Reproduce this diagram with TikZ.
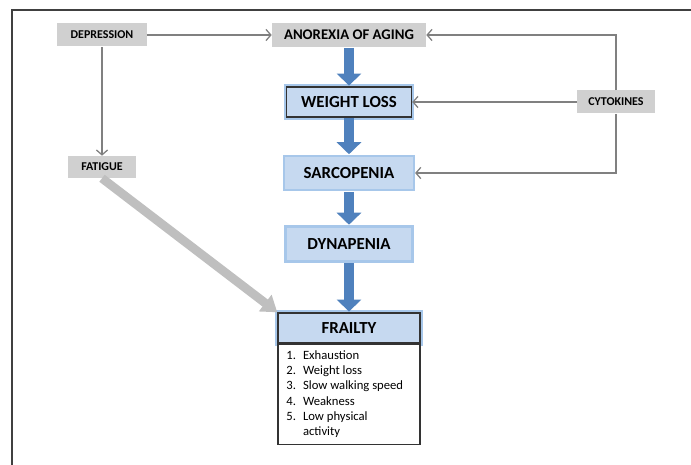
\documentclass[tikz,border=0pt]{standalone}
\usepackage{fontspec}
\setmainfont{Carlito}
\usepackage{xcolor}
\usetikzlibrary{arrows.meta, shapes}
\definecolor{boxgray}{HTML}{D0D0D0}
\definecolor{linegray}{HTML}{808080}
\definecolor{stagefill}{HTML}{C6D9F0}
\definecolor{stageglow}{HTML}{A7C7EA}
\definecolor{flowblue}{HTML}{4F81BD}
\tikzstyle{cause} = [rectangle, inner sep=0pt, text centered, fill=boxgray, font=\bfseries\fontsize{8.5}{10}\selectfont]
\tikzstyle{stage} = [rectangle, inner sep=0pt, text centered, fill=stagefill, draw=stageglow, line width=1.5pt, font=\bfseries\fontsize{12}{14}\selectfont]
\tikzstyle{outlined} = [draw=black!80, line width=1pt, preaction={draw=stageglow, line width=4pt}]
\tikzstyle{arrow} = [draw=linegray, line width=0.9pt, -{Straight Barb[length=3.5pt, width=8pt]}]
\tikzstyle{blockarrow} = [draw=flowblue, line width=0.25cm, -{Triangle[length=0.3cm, width=0.6cm]}, shorten <=0.5pt, shorten >=0.5pt]

\begin{document}
\begin{tikzpicture}[x=0.025cm, y=-0.025cm]
\useasboundingbox (0,0) rectangle (691,465);
% frame
\draw[color=black!75, line width=1pt] (691,10) -- (12,10) -- (12,465);

\node at (102, 35) (depression) [cause, minimum width=2.225cm, minimum height=0.575cm] {DEPRESSION};
\node at (349, 35) (anorexia) [cause, minimum width=3.85cm, minimum height=0.6cm, font=\bfseries\fontsize{10.5}{12}\selectfont] {ANOREXIA OF AGING};
\node at (616, 102) (cytokines) [cause, minimum width=1.925cm, minimum height=0.575cm] {CYTOKINES};
\node at (102, 167) (fatigue) [cause, minimum width=1.675cm, minimum height=0.55cm] {FATIGUE};

\node at (349, 102) (weight) [stage, outlined, minimum width=3.125cm, minimum height=0.75cm] {WEIGHT LOSS};
\node at (349, 173) (sarco) [stage, minimum width=3.25cm, minimum height=0.85cm] {SARCOPENIA};
\node at (349, 244) (dyna) [stage, minimum width=3.175cm, minimum height=0.875cm] {DYNAPENIA};
\node at (349, 328) (frailty) [stage, outlined, minimum width=3.55cm, minimum height=0.75cm] {FRAILTY};
\node at (frailty.south) [anchor=north, rectangle, draw=black!80, line width=1pt, fill=white, minimum width=3.55cm, minimum height=2.5cm, inner sep=0pt, align=left, font=\fontsize{9}{10.8}\selectfont] (signs) {%
\begin{tabular}{@{}l@{\hspace{5pt}}l@{}}
1. & Exhaustion\\
2. & Weight loss\\
3. & Slow walking speed\\
4. & Weakness\\
5. & Low physical\\
   & activity
\end{tabular}\hspace*{6pt}};

% thin arrows
\draw [arrow] (depression) -- (anorexia);
\draw [arrow] (depression) -- (fatigue);
\draw [arrow] (cytokines) |- (anorexia);
\draw [arrow] (cytokines) -- (weight);
\draw [arrow] (cytokines) |- (sarco);

% main chain
\draw [blockarrow] (anorexia) -- (weight);
\draw [blockarrow] (weight) -- (sarco);
\draw [blockarrow] (sarco) -- (dyna);
\draw [blockarrow] (dyna) -- (frailty);

\draw [draw=black!25, line width=0.22cm, -{Triangle[length=0.38cm, width=0.5cm]}] (fatigue.south) -- (frailty.north west);

\end{tikzpicture}
\end{document}
